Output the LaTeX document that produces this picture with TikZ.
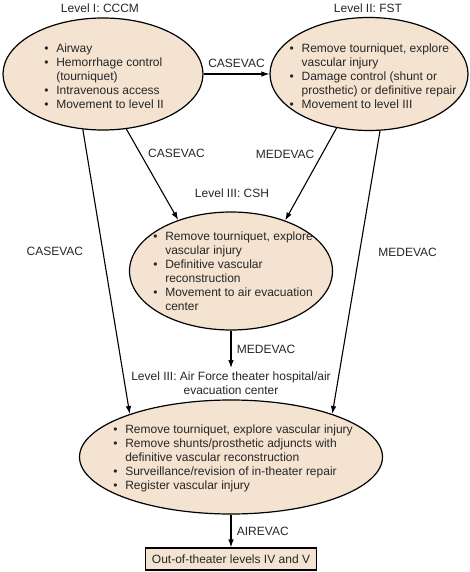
\documentclass[tikz,border=0pt]{standalone}
\usepackage{fontspec}
\setmainfont{Liberation Sans}
\usetikzlibrary{arrows.meta,shapes.geometric}

\definecolor{lvlfill}{RGB}{243,227,208}
\newcommand{\bul}{\makebox[12pt][l]{\textbullet}}
\newcommand{\ind}{\hspace*{12pt}}

\begin{document}
\begin{tikzpicture}[x=1pt, y=-1pt, every node/.style={font=\fontsize{12}{14}\selectfont, text=black!85}, >={Latex[length=8pt,width=5.5pt]}, lvl/.style={draw, ellipse, fill=lvlfill, line width=1.2pt, inner sep=0pt}, items/.style={align=left, inner sep=0pt}, hop/.style={->, line width=1.1pt}]
	\useasboundingbox (0,0) rectangle (470,572);
	% level I and II
	\node (t1) at (100,8) {Level I: CCCM};
	\node[lvl, minimum width=200pt, minimum height=112pt] (l1) at (103,74) {};
	\node[items] (i1) at (104,76) {\bul Airway\\ \bul Hemorrhage control\\ \ind(tourniquet)\\ \bul Intravenous access\\ \bul Movement to level II};
	\node (t2) at (368,8) {Level II: FST};
	\node[lvl, minimum width=198pt, minimum height=113pt] (l2) at (369,74) {};
	\node[items] (i2) at (373,76) {\bul Remove tourniquet, explore\\ \ind vascular injury\\ \bul Damage control (shunt or\\ \ind prosthetic) or definitive repair\\ \bul Movement to level III};
	% level III
	\node (t3) at (232,193) {Level III: CSH};
	\node[lvl, minimum width=203pt, minimum height=118pt] (l3) at (231,271) {};
	\node[items] (i3) at (233,271) {\bul Remove tourniquet, explore\\ \ind vascular injury\\ \bul Definitive vascular\\ \ind reconstruction\\ \bul Movement to air evacuation\\ \ind center};
	\node[align=center] (t4) at (231,383) {Level III: Air Force theater hospital/air\\ evacuation center};
	\node[lvl, minimum width=303pt, minimum height=114pt] (l4) at (231,457) {};
	\node[items] (i4) at (233,458) {\bul Remove tourniquet, explore vascular injury\\ \bul Remove shunts/prosthetic adjuncts with\\ \ind definitive vascular reconstruction\\ \bul Surveillance/revision of in-theater repair\\ \bul Register vascular injury};
	% out of theater
	\node[draw, fill=lvlfill, line width=1.2pt, minimum width=171pt, minimum height=22pt] (out) at (231,559) {Out-of-theater levels IV and V};
	\draw[hop] (l1) -- (l2) node[midway, above=2pt] {CASEVAC};
	\draw[hop] (l1.-67) -- (l3.136) node[pos=0.27, right=4pt] {CASEVAC};
	\draw[hop] (l2.-121) -- (l3.43) node[pos=0.28, left=4pt] {MEDEVAC};
	\draw[hop] (l1.-110) -- (l4.157) node[pos=0.43, left=16pt] {CASEVAC};
	\draw[hop] (l2.-79) -- (l4.23) node[pos=0.43, right=15pt] {MEDEVAC};
	\draw[hop] (l3) -- (t4) node[midway, right=2pt] {MEDEVAC};
	\draw[hop] (l4) -- (out) node[midway, right=2pt] {AIREVAC};
\end{tikzpicture}
\end{document}
